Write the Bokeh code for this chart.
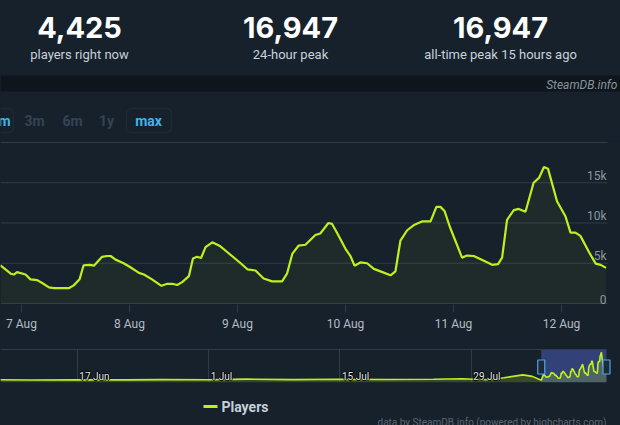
import pandas as pd
from bokeh.plotting import figure
from bokeh.layouts import column
from bokeh.models import Range1d, FixedTicker, BoxAnnotation
from bokeh.core.properties import value
from bokeh.embed import file_html
from bokeh.resources import INLINE

# ---------------- data ----------------
stat_values = ["4,425", "16,947", "16,947"]
stat_labels = ["players right now", "24-hour peak", "all-time peak 15 hours ago"]
zoom_buttons = ["m", "3m", "6m", "1y", "max"]
active_buttons = ["m", "max"]
watermark = "SteamDB.info"
series_name = "Players"
credits = "data by SteamDB.info (powered by highcharts.com)"

day_tick_dates = ["2023-08-07", "2023-08-08", "2023-08-09", "2023-08-10", "2023-08-11", "2023-08-12"]
day_tick_labels = ["7 Aug", "8 Aug", "9 Aug", "10 Aug", "11 Aug", "12 Aug"]
y_grid_values = [0, 5000, 10000, 15000, 20000]
y_tick_values = [0, 5000, 10000, 15000]
y_tick_labels = ["0", "5k", "10k", "15k"]

hours_after_7_aug = [
    -4.7, -3.9, -2.4, -1.7, -1.0, 0.9, 2.0, 3.5, 4.6, 6.1, 7.2, 10.5, 11.6, 12.9, 13.8, 15.2,
    16.1, 17.9, 19.0, 19.8, 20.9, 22.7, 24.2, 26.1, 27.2, 29.0, 31.1, 32.4, 33.5, 34.6, 35.7,
    37.2, 38.1, 39.0, 39.9, 40.9, 42.4, 44.2, 45.7, 48.7, 50.2, 52.0, 53.8, 55.7, 57.9, 59.0,
    60.2, 61.6, 63.1, 65.3, 66.4, 68.2, 69.0, 70.2, 72.0, 73.1, 74.0, 75.3, 76.8, 78.3, 80.2,
    82.0, 83.1, 84.2, 85.7, 87.2, 89.0, 90.9, 92.2, 93.1, 94.0, 95.2, 97.9, 99.0, 100.5, 102.4,
    104.6, 105.9, 106.8, 107.9, 109.4, 110.5, 112.0, 113.8, 115.0, 116.1, 117.0, 119.0, 120.9,
    122.0, 123.1, 124.2, 126.1, 127.6, 128.7, 129.9,
]
players = [
    4750, 4400, 3700, 3600, 3900, 3600, 3000, 2900, 2550, 2000, 1900, 1900, 2250, 3000, 4750, 4800,
    4700, 5800, 5900, 5900, 5450, 5000, 4500, 3800, 3600, 3000, 2200, 2450, 2450, 2300, 2650,
    3400, 5600, 5800, 5650, 7000, 7600, 7100, 6400, 5000, 4250, 4100, 3100, 2750, 2750, 3700,
    6200, 7200, 7300, 8500, 8700, 10000, 9900, 8700, 6800, 5900, 4700, 5100, 5000, 4300, 3900,
    3500, 4000, 7800, 9100, 9750, 10200, 10200, 12000, 12000, 11500, 9500, 5700, 5950, 5900, 5400,
    4800, 4900, 5700, 10400, 11600, 11750, 11400, 15000, 15600, 16947, 16750, 12700, 10800,
    8800, 8800, 8400, 6400, 4950, 4800, 4425,
]

history_times = [
    "2023-06-08 19:00", "2023-06-12 00:00", "2023-06-17 00:00", "2023-06-22 00:00",
    "2023-06-26 00:00", "2023-07-01 00:00", "2023-07-05 00:00", "2023-07-10 00:00",
    "2023-07-15 00:00", "2023-07-20 00:00", "2023-07-25 00:00", "2023-07-28 00:00",
    "2023-07-30 00:00", "2023-07-31 00:00", "2023-08-01 12:00", "2023-08-03 12:00",
    "2023-08-04 12:00", "2023-08-05 11:00", "2023-08-05 17:00", "2023-08-06 00:00",
    "2023-08-06 08:00", "2023-08-06 13:00",
]
history_players = [
    1000, 900, 1000, 950, 1100, 1050, 1400, 1100, 1300, 1150, 1300, 1600,
    1200, 1000, 2200, 3900, 3000, 700, 4200, 2500, 3000, 5200,
]
nav_tick_dates = ["2023-06-17", "2023-07-01", "2023-07-15", "2023-07-29"]
nav_tick_labels = ["17 Jun", "1 Jul", "15 Jul", "29 Jul"]
selection_start = "2023-08-05 11:00"

# ---------------- style ----------------
W = 620
BG = "#17212c"
STRIP = "#0e151d"
LIME = "#bdf01e"
GRID = "#2f3b48"
FONT = value("Roboto")


def ms(t):
    return int(pd.Timestamp(t).value // 10**6)


def bare(fig):
    fig.xgrid.visible = False
    fig.ygrid.visible = False


def base_fig(height, **kw):
    opts = dict(width=W, height=height, toolbar_location=None, output_backend="svg",
                min_border_left=0, min_border_right=0, background_fill_color=BG,
                border_fill_color=BG, outline_line_color=None)
    opts.update(kw)
    return figure(**opts)


# ---------------- header ----------------
HH = 140


def hy(py):
    return HH - py


hdr = base_fig(HH, x_range=Range1d(0, W), y_range=Range1d(0, HH), x_axis_location=None,
               y_axis_location=None, min_border_top=0, min_border_bottom=0)
bare(hdr)
hdr.quad(left=[0], right=[W], top=[hy(75)], bottom=[hy(91)], fill_color=STRIP, line_color=None)
stat_x = [79, 290, 500]
hdr.text(x=stat_x, y=[hy(27)] * 3, text=stat_values, text_align="center", text_baseline="middle",
         text_font=value("Inter"), text_font_style="bold", text_font_size="29px", text_color="#ffffff")
hdr.text(x=stat_x, y=[hy(54)] * 3, text=stat_labels, text_align="center", text_baseline="middle",
         text_font=FONT, text_font_size="13px", text_color="#c7d1db")
hdr.text(x=[617], y=[hy(84)], text=[watermark], text_align="right", text_baseline="middle",
         text_font=FONT, text_font_style="italic", text_font_size="12px", text_color="#8b949c")

btn_x = [4, 34, 72, 106, 148]
btn_colors = ["#3fb4ec" if b in active_buttons else "#354354" for b in zoom_buttons]
hdr.text(x=btn_x, y=[hy(120)] * len(zoom_buttons), text=zoom_buttons, text_align="center",
         text_baseline="middle", text_font=FONT, text_font_style="bold", text_font_size="14px",
         text_color=btn_colors)
for l, r in [(-12, 13), (126, 171)]:
    hdr.add_layout(BoxAnnotation(left=l, right=r, top=hy(108), bottom=hy(132), fill_alpha=0,
                                 line_color="#2d3a4a", line_width=1.5, border_radius=5))

# ---------------- main chart ----------------
base = pd.Timestamp("2023-08-07")
times = base + pd.to_timedelta(hours_after_7_aug, unit="h")
px_per_day = 108.0


def main_t(px):
    return (base + pd.Timedelta(hours=(px - 21) / px_per_day * 24)).to_pydatetime()


px_per_player = 161 / 20000.0
main = base_fig(200, x_axis_type="datetime", x_range=Range1d(main_t(0), main_t(W)),
                y_range=Range1d(-1 / px_per_player, 20000 + 1 / px_per_player),
                y_axis_location=None, min_border_top=1, min_border_bottom=36)
bare(main)
main.segment(x0=[main_t(0)] * len(y_grid_values), x1=[main_t(607)] * len(y_grid_values),
             y0=y_grid_values, y1=y_grid_values, line_color=GRID, line_width=1)

main.varea(x=times, y1=0, y2=players, fill_color=LIME, fill_alpha=0.05)
main.line(x=times, y=players, line_color=LIME, line_width=2.2)

day_ms = [ms(d) for d in day_tick_dates]
main.xaxis.ticker = FixedTicker(ticks=day_ms)
main.xaxis.major_label_overrides = {k: v for k, v in zip(day_ms, day_tick_labels)}
main.xaxis.axis_line_color = None
main.xaxis.major_tick_line_color = GRID
main.xaxis.major_tick_out = 8
main.xaxis.major_tick_in = 0
main.xaxis.minor_tick_line_color = None
main.xaxis.major_label_standoff = 4
main.xaxis.major_label_text_font = "Roboto"
main.xaxis.major_label_text_font_size = "12px"
main.xaxis.major_label_text_color = "#b4bcc5"

main.text(x=[main_t(606)] * len(y_tick_values), y=y_tick_values, text=y_tick_labels,
          text_align="right", text_baseline="bottom", text_font=FONT,
          text_font_size="12px", text_color="#8c96a0")

# ---------------- navigator ----------------
nav_times = list(pd.to_datetime(history_times, format="%Y-%m-%d %H:%M")) + list(times)
nav_players = history_players + players
nav_px_per_day = (471 - 77) / 42.0
nav_last = times[-1]


def nav_t(px):
    return (nav_last + pd.Timedelta(days=(px - 606) / nav_px_per_day)).to_pydatetime()


NPX = 33 / 19345.0  # pixels per player in navigator
NLO = -1 / NPX       # value at frame bottom (1px below zero)
NTOP = NLO + 33 / NPX  # value at the navigator top border line
nav = base_fig(52, x_axis_type="datetime", x_range=Range1d(nav_t(0), nav_t(W)),
               y_range=Range1d(NLO, NTOP + 1 / NPX), x_axis_location=None,
               y_axis_location=None, min_border_top=8, min_border_bottom=10)
nav.ygrid.visible = False
nav_ms = [ms(d) for d in nav_tick_dates]
nav.xgrid.ticker = FixedTicker(ticks=nav_ms)
nav.xgrid.grid_line_color = GRID
nav.segment(x0=[nav_t(0)], x1=[nav_t(606)], y0=[NTOP], y1=[NTOP], line_color=GRID, line_width=1)
nav.add_layout(BoxAnnotation(left=ms(selection_start), right=ms(nav_last), top=NTOP, bottom=NLO,
                             fill_color="#3a4a8c", fill_alpha=0.8, line_color=None,
                             level="underlay"))
nav.varea(x=nav_times, y1=NLO, y2=nav_players, fill_color=LIME, fill_alpha=0.2)
nav.line(x=nav_times, y=nav_players, line_color=LIME, line_width=1.6)

lab_y = 2930
nav_dt = list(pd.to_datetime(nav_tick_dates))
for dx, dy in [(-1, 0), (1, 0), (0, -1), (0, 1)]:
    nav.text(x=nav_dt, y=[lab_y] * 4, text=nav_tick_labels, x_offset=2 + dx, y_offset=dy,
             text_align="left", text_baseline="middle", text_font=FONT, text_font_size="10px",
             text_color="#000000")
nav.text(x=nav_dt, y=[lab_y] * 4, text=nav_tick_labels, x_offset=2, text_align="left",
         text_baseline="middle", text_font=FONT, text_font_size="10px", text_color="#e6e6e6")
nav.rect(x=[ms(selection_start), ms(nav_last)], y=[8500, 8500], width=7, height=14,
         width_units="screen", height_units="screen", fill_color="#1c2a3a",
         line_color="#4ea5e6", line_width=1.2)

# ---------------- footer (legend + credits) ----------------
FH = 33


def fy(py):
    return 425 - py


foot = base_fig(FH, x_range=Range1d(0, W), y_range=Range1d(0, FH), x_axis_location=None,
                y_axis_location=None, min_border_top=0, min_border_bottom=0)
bare(foot)
foot.segment(x0=[203], y0=[fy(406)], x1=[217], y1=[fy(406)], line_color=LIME, line_width=3)
foot.text(x=[221], y=[fy(406)], text=[series_name], text_align="left", text_baseline="middle",
          text_font=FONT, text_font_style="bold", text_font_size="14px", text_color="#c6d0da")
foot.text(x=[606], y=[fy(416)], text=[credits], text_align="right", text_baseline="top",
          text_font=FONT, text_font_size="10px", text_color="#5b6570")

layout = column(hdr, main, nav, foot, spacing=0, styles={"background-color": BG})
open("out.html", "w").write(file_html(layout, INLINE))
